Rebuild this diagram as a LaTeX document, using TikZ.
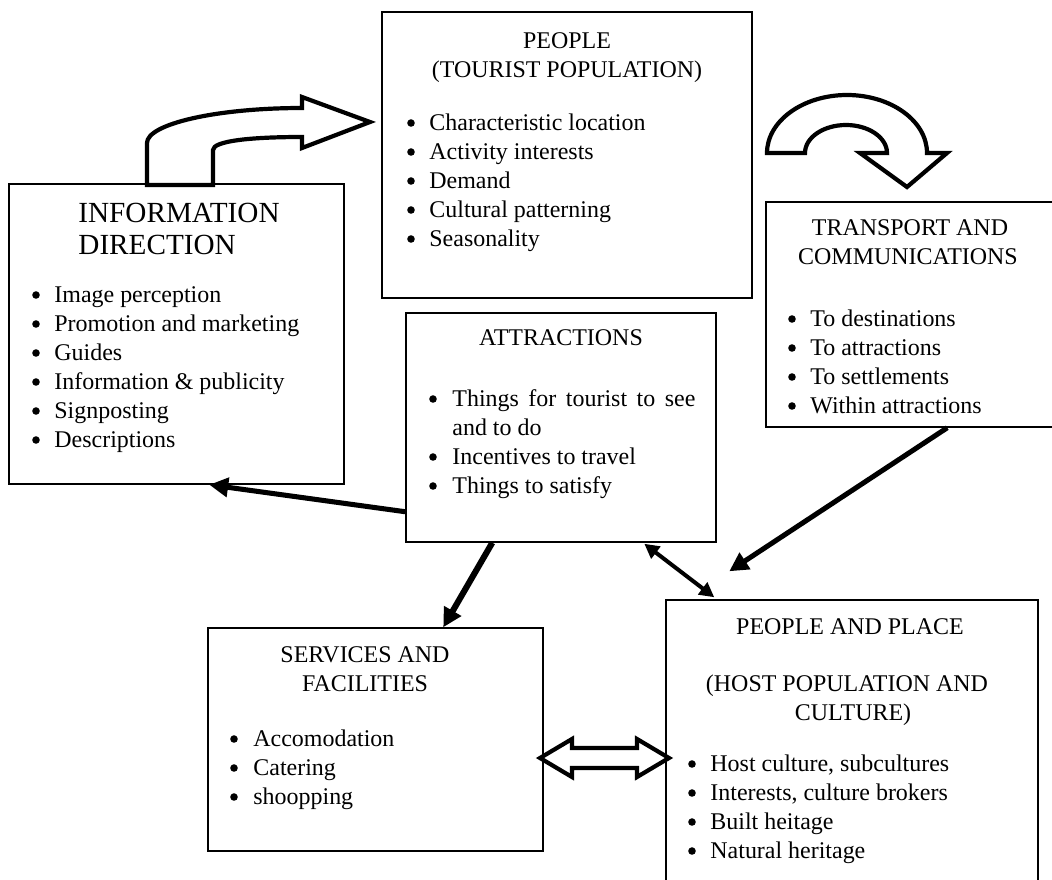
\documentclass[tikz,border=0pt]{standalone}
\usepackage{fontspec}
\setmainfont{Liberation Serif}
\usetikzlibrary{arrows.meta,fit,calc}
\newcommand\bitems[5]{%
  \foreach \t [count=\i from 0] in {#5}{%
    \node[bul] (#1b\i) at ({#2},{#4+29*\i-7}) {};
    \node[txt] (#1t\i) at ({#3},{#4+29*\i}) {\t};
  }}
\begin{document}
\begin{tikzpicture}[x=0.476pt,y=-0.476pt,
  box/.style={draw, line width=0.7pt, inner sep=0pt},
  txt/.style={anchor=base west, inner sep=0pt, font=\fontsize{11.4}{13.8}\selectfont},
  ttl/.style={anchor=base, inner sep=0pt, font=\fontsize{11.4}{13.8}\selectfont},
  bigttl/.style={anchor=base west, inner sep=0pt, font=\fontsize{13.9}{15}\selectfont},
  bul/.style={circle, fill=black, inner sep=0pt, minimum size=3.6pt},
  blockarrow/.style={draw, fill=white, line width=2pt, line join=miter},
  conn/.style={line width=#1, -{Triangle[length=9pt,width=9pt]}},
  dconn/.style={line width=#1, {Triangle[length=7pt,width=7pt]}-{Triangle[length=7pt,width=7pt]}}]
\clip (0,0) rectangle (1052,879);
\fill[white] (0,0) rectangle (1052,879);

% boxes
\node[box, fit={(382,12) (752,298)}] (people) {};
\node[box, fit={(9,184) (344,484)}] (info) {};
\node[box, fit={(766,202) (1075,427)}] (trans) {};
\node[box, fit={(406,313) (716,542)}] (attr) {};
\node[box, fit={(208,628) (543,851)}] (serv) {};
\node[box, fit={(666,600) (1038,910)}] (pp) {};

% PEOPLE
\node[ttl] (peopleT1) at (567,48) {PEOPLE};
\node[ttl] (peopleT2) at (567,77) {(TOURIST POPULATION)};
\bitems{pe}{411}{429}{130}{Characteristic location,Activity interests,Demand,Cultural patterning,Seasonality}

% INFORMATION DIRECTION
\node[bigttl] (infoT1) at (78,222) {INFORMATION};
\node[bigttl] (infoT2) at (78,254) {DIRECTION};
\bitems{in}{36}{54}{302}{Image perception,Promotion and marketing,Guides,Information \& publicity,Signposting,Descriptions}

% TRANSPORT
\node[ttl] (transT1) at (910,235) {TRANSPORT AND};
\node[ttl] (transT2) at (908,264) {COMMUNICATIONS};
\bitems{tr}{792}{810}{326}{To destinations,To attractions,To settlements,Within attractions}

% ATTRACTIONS
\node[ttl] (attrT) at (561,345) {ATTRACTIONS};
\node[bul] (atb0) at (433,399) {};
\node[txt] (att0) at (452,406) {\makebox[115.7pt][s]{Things for tourist to see}};
\node[txt] (att0b) at (452,435) {and to do};
\bitems{atx}{433}{452}{464}{Incentives to travel,Things to satisfy}

% SERVICES
\node[ttl] (servT1) at (365,662) {SERVICES AND};
\node[ttl] (servT2) at (365,691) {FACILITIES};
\bitems{se}{234}{253}{746}{Accomodation,Catering,shoopping}

% PEOPLE AND PLACE
\node[ttl] (ppT1) at (850,634) {PEOPLE AND PLACE};
\node[ttl] (ppT2) at (847,691) {(HOST POPULATION AND};
\node[ttl] (ppT3) at (853,720) {CULTURE)};
\bitems{pp}{692}{710}{771}{{Host culture, subcultures},{Interests, culture brokers},Built heitage,Natural heritage}

% block arrows
\draw[blockarrow] (147,185) -- (147,143) .. controls (147,124) and (216,108) .. (302,108)
  -- (302,97) -- (370,122) -- (302,148) -- (302,137)
  .. controls (250,137) and (213,141) .. (213,150) -- (213,185) -- cycle;
\draw[blockarrow] (767,153) -- (805,153) .. controls (805,137.5) and (823.4,125) .. (846,125)
  .. controls (868.6,125) and (887,137.5) .. (887,153) -- (860,153) -- (907,187) -- (947,153)
  -- (927,153) .. controls (927,121) and (891,95) .. (847,95)
  .. controls (803,95) and (767,121) .. (767,153) -- cycle;
\draw[blockarrow] (540,758) -- (572,739) -- (572,748) -- (637,748) -- (637,739) -- (669,758)
  -- (637,777) -- (637,768) -- (572,768) -- (572,777) -- cycle;

% connectors
\coordinate (c1) at ($(attr.south west)+(0,-31)$);
\coordinate (c2) at ($(info.south west)+(201,0)$);
\draw[conn=2.4pt] (c1) -- (c2);
\coordinate (c3) at ($(attr.south west)+(87,0)$);
\coordinate (c4) at ($(serv.north west)+(236,0)$);
\draw[conn=2.9pt] (c3) -- (c4);
\coordinate (c5) at ($(attr.south west)+(239,1)$);
\coordinate (c6) at ($(pp.north west)+(49,-2)$);
\draw[dconn=1.9pt] (c5) -- (c6);
\coordinate (c7) at ($(trans.south west)+(182,0)$);
\coordinate (c8) at ($(pp.north west)+(64,-28)$);
\draw[conn=2.4pt] (c7) -- (c8);
\end{tikzpicture}
\end{document}
